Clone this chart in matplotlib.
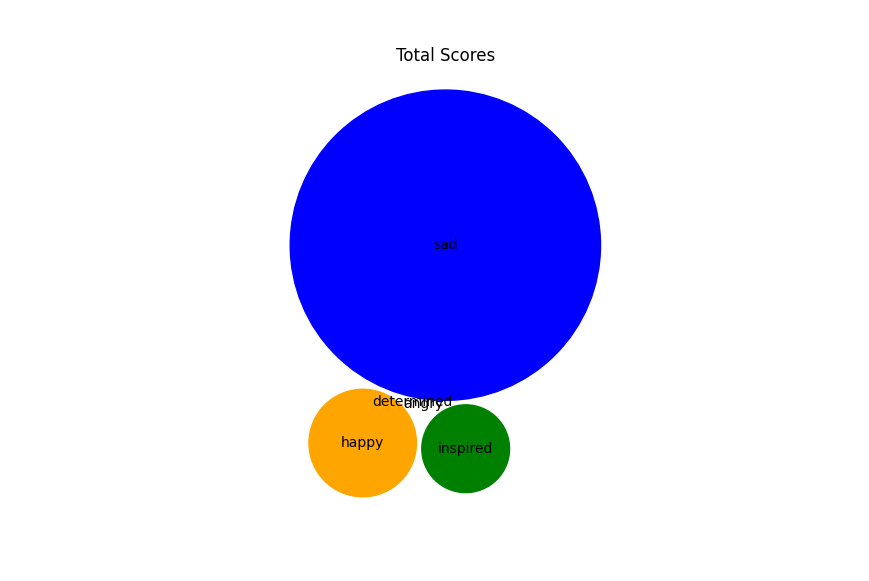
import numpy as np
import matplotlib
matplotlib.use('Agg')
import matplotlib.pyplot as plt

# moods and their total scores
moods = ['determined', 'angry', 'inspired', 'happy', 'sad']
scores = [0, 0, 2, 3, 25]
colores = ['purple', 'red', 'green', 'orange', 'blue']


class BubbleChart:
    def __init__(self, area, bubble_spacing=0):
        area = np.asarray(area, dtype=float)
        r = np.sqrt(area / np.pi)
        self.bubble_spacing = bubble_spacing
        self.bubbles = np.ones((len(area), 4))
        self.bubbles[:, 2] = r
        self.bubbles[:, 3] = area
        self.maxstep = 2 * self.bubbles[:, 2].max() + self.bubble_spacing
        self.step_dist = self.maxstep / 2

        # posiciones iniciales en una rejilla
        length = np.ceil(np.sqrt(len(self.bubbles)))
        grid = np.arange(length) * self.maxstep
        gx, gy = np.meshgrid(grid, grid)
        self.bubbles[:, 0] = gx.flatten()[:len(self.bubbles)]
        self.bubbles[:, 1] = gy.flatten()[:len(self.bubbles)]
        self.com = self.center_of_mass()

    def center_of_mass(self):
        return np.average(self.bubbles[:, :2], axis=0, weights=self.bubbles[:, 3])

    def center_distance(self, bubble, bubbles):
        return np.hypot(bubble[0] - bubbles[:, 0], bubble[1] - bubbles[:, 1])

    def outline_distance(self, bubble, bubbles):
        d = self.center_distance(bubble, bubbles)
        return d - bubble[2] - bubbles[:, 2] - self.bubble_spacing

    def check_collisions(self, bubble, bubbles):
        distance = self.outline_distance(bubble, bubbles)
        return len(distance[distance < 0])

    def collides_with(self, bubble, bubbles):
        distance = self.outline_distance(bubble, bubbles)
        return np.argmin(distance, keepdims=True)

    def collapse(self, n_iterations=50):
        for _ in range(n_iterations):
            moves = 0
            for i in range(len(self.bubbles)):
                rest_bub = np.delete(self.bubbles, i, 0)
                dir_vec = self.com - self.bubbles[i, :2]
                norm = np.sqrt(dir_vec.dot(dir_vec))
                if norm == 0:
                    continue
                dir_vec = dir_vec / norm
                new_point = self.bubbles[i, :2] + dir_vec * self.step_dist
                new_bubble = np.append(new_point, self.bubbles[i, 2:4])

                if not self.check_collisions(new_bubble, rest_bub):
                    self.bubbles[i, :] = new_bubble
                    self.com = self.center_of_mass()
                    moves += 1
                else:
                    for colliding in self.collides_with(new_bubble, rest_bub):
                        dir_vec = rest_bub[colliding, :2] - self.bubbles[i, :2]
                        n2 = np.sqrt(dir_vec.dot(dir_vec))
                        if n2 == 0:
                            continue
                        dir_vec = dir_vec / n2
                        orth = np.array([dir_vec[1], -dir_vec[0]])
                        p1 = self.bubbles[i, :2] + orth * self.step_dist
                        p2 = self.bubbles[i, :2] - orth * self.step_dist
                        d1 = self.center_distance(self.com, np.array([p1]))
                        d2 = self.center_distance(self.com, np.array([p2]))
                        new_point = p1 if d1 < d2 else p2
                        new_bubble = np.append(new_point, self.bubbles[i, 2:4])
                        if not self.check_collisions(new_bubble, rest_bub):
                            self.bubbles[i, :] = new_bubble
                            self.com = self.center_of_mass()

            if moves / len(self.bubbles) < 0.1:
                self.step_dist = self.step_dist / 2

    def plot(self, ax, labels, colors):
        for i in range(len(self.bubbles)):
            circ = plt.Circle(self.bubbles[i, :2], self.bubbles[i, 2], color=colors[i])
            ax.add_patch(circ)
            ax.text(*self.bubbles[i, :2], labels[i],
                    horizontalalignment='center', verticalalignment='center')


bubble_chart = BubbleChart(area=scores, bubble_spacing=0.1)
bubble_chart.collapse()

fig, ax = plt.subplots(figsize=(8.69, 5.81), dpi=100, subplot_kw=dict(aspect="equal"))
bubble_chart.plot(ax, moods, colores)
ax.axis("off")
ax.relim()
ax.autoscale_view()
ax.set_title('Total Scores')

plt.savefig('out.png', dpi=100)
